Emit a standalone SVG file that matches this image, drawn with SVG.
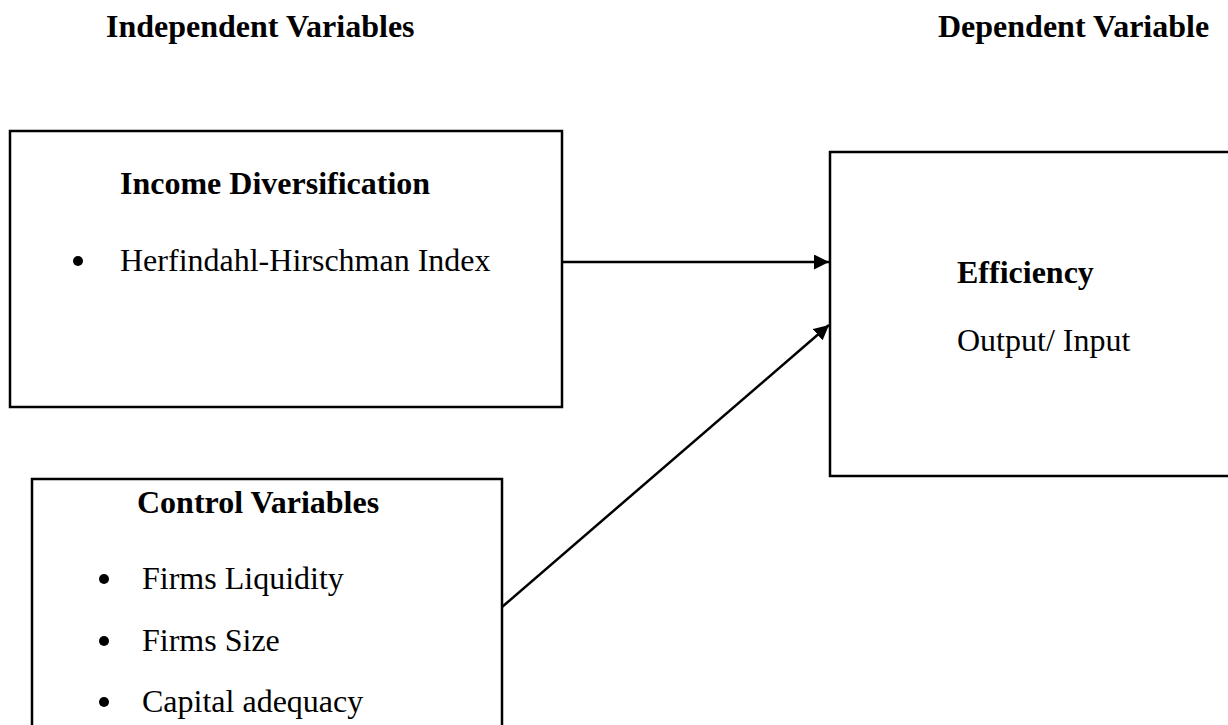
<svg xmlns="http://www.w3.org/2000/svg" width="1228" height="725" viewBox="0 0 1228 725">
<style>
.box{fill:#fff;stroke:#000;stroke-width:2.5}
.b{font-family:"Liberation Serif","Times New Roman",serif;font-weight:bold;font-size:32px;fill:#000}
.r{font-family:"Liberation Serif","Times New Roman",serif;font-size:32px;fill:#000}
.conn{stroke:#000;stroke-width:2.5;fill:none;marker-end:url(#ah)}
</style>
<defs>
<marker id="ah" viewBox="0 0 10 10" refX="10" refY="5" markerWidth="6" markerHeight="6" markerUnits="strokeWidth" orient="auto">
<path d="M0,0 L10,5 L0,10 z" fill="#000"/>
</marker>
</defs>
<rect width="1228" height="725" fill="#fff"/>
<g id="headers">
<text class="b" x="106" y="37">Independent Variables</text>
<text class="b" x="938" y="37">Dependent Variable</text>
</g>
<g id="income">
<rect class="box" x="10" y="131" width="552" height="276"/>
<text class="b" x="120" y="194">Income Diversification</text>
<circle cx="78" cy="261" r="5"/>
<text class="r" x="120" y="271">Herfindahl-Hirschman Index</text>
</g>
<g id="efficiency">
<rect class="box" x="830" y="152" width="420" height="324"/>
<text class="b" x="957" y="283">Efficiency</text>
<text class="r" x="957" y="351">Output/ Input</text>
</g>
<g id="control">
<rect class="box" x="32" y="479" width="470" height="270"/>
<text class="b" x="137" y="513">Control Variables</text>
<circle cx="104" cy="579" r="5"/>
<text class="r" x="142" y="589">Firms Liquidity</text>
<circle cx="104" cy="641" r="5"/>
<text class="r" x="142" y="651">Firms Size</text>
<circle cx="104" cy="702" r="5"/>
<text class="r" x="142" y="712">Capital adequacy</text>
</g>
<g id="connectors">
<line class="conn" x1="562" y1="262" x2="829" y2="262"/>
<line class="conn" x1="502" y1="607" x2="829" y2="325"/>
</g>
</svg>
